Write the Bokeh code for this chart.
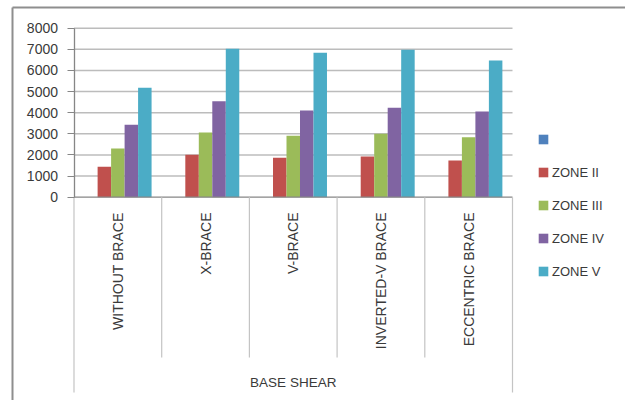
from bokeh.plotting import figure
from bokeh.models import (Range1d, LinearAxis, FixedTicker, Legend, LegendItem,
                          ColumnDataSource)
from bokeh.core.properties import value
from bokeh.embed import file_html
from bokeh.resources import INLINE

# ---- data -------------------------------------------------------------
categories = ["WITHOUT BRACE", "X-BRACE", "V-BRACE", "INVERTED-V BRACE", "ECCENTRIC BRACE"]
series_names = [" ", "ZONE II", "ZONE III", "ZONE IV", "ZONE V"]
zone_blank = [0, 0, 0, 0, 0]
zone_ii = [1440, 2010, 1870, 1930, 1740]
zone_iii = [2300, 3060, 2910, 3000, 2840]
zone_iv = [3430, 4540, 4100, 4230, 4060]
zone_v = [5180, 7030, 6840, 6980, 6470]
y_ticks = [0, 1000, 2000, 3000, 4000, 5000, 6000, 7000, 8000]
group_label = "BASE SHEAR"

series_values = [zone_blank, zone_ii, zone_iii, zone_iv, zone_v]
colors = ["#4F81BD", "#C0504D", "#9BBB59", "#8064A2", "#4BACC6"]

# ---- geometry of the canvas (pixels) ----------------------------------
W, H = 625, 400
X_LEFT_PX, X_RIGHT_PX = 73.5, 512.0     # category axis span
Y_ZERO_PX, Y_TOP_PX = 196.7, 27.7        # value 0 and value 8000
n_cat = len(categories)
y_max = y_ticks[-1]

px_per_x = (X_RIGHT_PX - X_LEFT_PX) / n_cat
px_per_y = (Y_ZERO_PX - Y_TOP_PX) / y_max


def sx(px):
    return (px - X_LEFT_PX) / px_per_x


def sy(py):
    return (Y_ZERO_PX - py) / px_per_y


p = figure(width=W, height=H, output_backend="svg", toolbar_location=None,
           x_range=Range1d(sx(0), sx(W)), y_range=Range1d(sy(H), sy(0)),
           x_axis_location=None, y_axis_location=None,
           min_border=0, min_border_left=0, min_border_right=0,
           min_border_top=0, min_border_bottom=0)
p.outline_line_color = None
p.grid.visible = False
p.background_fill_color = "white"
p.border_fill_color = "white"

FONT = "Liberation Sans"
TEXT_COLOR = "#3a3a3a"

# horizontal gridlines
grid_y = y_ticks[1:]
p.segment(x0=[0] * len(grid_y), x1=[n_cat] * len(grid_y), y0=grid_y, y1=grid_y,
          line_color="#bcbcbc", line_width=1.5)

# bars (clustered, Excel-style gap of 150%)
bar_w = 1.0 / (len(series_names) + 1.5)
renderers = []
for j, (vals, col) in enumerate(zip(series_values, colors)):
    xs = [i + 0.5 + (j - (len(series_names) - 1) / 2) * bar_w for i in range(n_cat)]
    src = ColumnDataSource(dict(x=xs, top=vals))
    r = p.vbar(x="x", top="top", bottom=0, width=bar_w, source=src,
               fill_color=col, line_color=None)
    renderers.append(r)

# category axis line
p.segment(x0=[0], x1=[n_cat], y0=[0], y1=[0], line_color="#868686", line_width=1.3)

# value axis placed at x = 0
yax = LinearAxis(fixed_location=0, ticker=FixedTicker(ticks=y_ticks),
                 bounds=(0, y_max))
yax.axis_line_color = "#868686"
yax.axis_line_width = 1.3
yax.major_tick_line_color = "#868686"
yax.major_tick_in = 0
yax.major_tick_out = 7
yax.minor_tick_line_color = None
yax.major_label_standoff = 9
yax.major_label_text_font = FONT
yax.major_label_text_font_size = "14px"
yax.major_label_text_color = TEXT_COLOR
p.add_layout(yax, "left")

# category separators below the axis
sep_inner = list(range(1, n_cat))
p.segment(x0=sep_inner, x1=sep_inner, y0=[0] * len(sep_inner),
          y1=[sy(357)] * len(sep_inner), line_color="#c4c4c4", line_width=1.2)
sep_outer = [0, n_cat]
p.segment(x0=sep_outer, x1=sep_outer, y0=[0, 0], y1=[sy(392)] * 2,
          line_color="#c4c4c4", line_width=1.2)

# rotated category labels
p.text(x=[i + 0.5 for i in range(n_cat)], y=[sy(212)] * n_cat, text=categories,
       angle=1.5708, text_align="right", text_baseline="middle",
       text_font=value(FONT), text_font_size="14px", text_color=TEXT_COLOR)

# group label
p.text(x=[n_cat / 2], y=[sy(382)], text=[group_label], text_align="center",
       text_baseline="middle", text_font=value(FONT), text_font_size="13.5px",
       text_color=TEXT_COLOR)

# chart frame (top and left edges)
p.segment(x0=[sx(12), sx(12)], x1=[sx(W + 5), sx(12)], y0=[sy(7), sy(7)],
          y1=[sy(7), sy(H + 5)], line_color="#8e8e8e", line_width=2)

legend = Legend(items=[LegendItem(label=name, renderers=[r])
                       for name, r in zip(series_names, renderers)],
                location=(537, 119))
legend.glyph_width = 12
legend.glyph_height = 12
legend.label_height = 20
legend.spacing = 13
legend.padding = 0
legend.margin = 0
legend.label_standoff = 3
legend.border_line_color = None
legend.background_fill_alpha = 0
legend.label_text_font = FONT
legend.label_text_font_size = "13px"
legend.label_text_color = TEXT_COLOR
p.add_layout(legend, "center")

open("out.html", "w").write(file_html(p, INLINE))
